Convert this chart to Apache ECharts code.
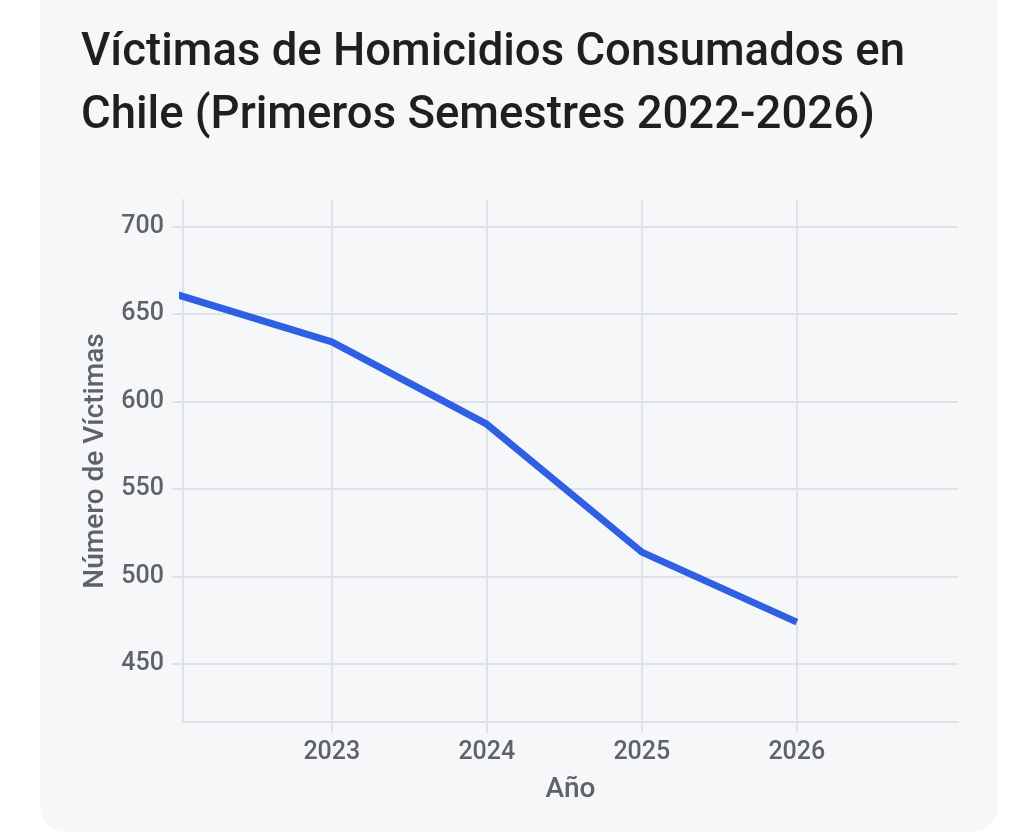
<!DOCTYPE html>
<html>
<head>
<meta charset="utf-8">
<script src="https://cdn.jsdelivr.net/npm/echarts@6/dist/echarts.min.js"></script>
<style>
  html, body { margin: 0; padding: 0; background: #ffffff; width: 1024px; height: 835px; overflow: hidden; }
  #card { position: absolute; left: 40px; top: -30px; width: 958px; height: 862px; background: #f5f7f9; border-radius: 26px; }
  #chart { position: absolute; left: 0; top: 0; width: 1024px; height: 835px; }
</style>
</head>
<body>
<div id="card"></div>
<div id="chart"></div>
<script>
const titleLines = ['Víctimas de Homicidios Consumados en', 'Chile (Primeros Semestres 2022-2026)'];
const years = [2022, 2023, 2024, 2025, 2026];
const victims = [661, 634, 587, 514, 474];
const xTicks = [2023, 2024, 2025, 2026];
const yTicks = [450, 500, 550, 600, 650, 700];
const xName = 'Año';
const yName = 'Número de Víctimas';

const gridColor = '#dfe2e6';
const labelColor = '#5f6368';

const chart = echarts.init(document.getElementById('chart'), null, { renderer: 'canvas' });
chart.setOption({
  backgroundColor: 'transparent',
  animation: false,
  title: {
    text: titleLines.join('\n'),
    left: 81,
    top: 22,
    padding: 0,
    textStyle: {
      fontFamily: 'Roboto',
      fontSize: 45.5,
      fontWeight: 500,
      lineHeight: 63,
      color: '#1f1f1f'
    }
  },
  grid: { left: 183, right: 66, top: 200, bottom: 113, containLabel: false },
  xAxis: {
    type: 'value',
    min: 2022.04,
    max: 2027.04,
    name: xName,
    nameLocation: 'middle',
    nameGap: 54,
    nameTextStyle: { fontFamily: 'Roboto', fontSize: 28, fontWeight: 500, color: labelColor },
    axisLine: { show: true, lineStyle: { color: gridColor, width: 2 } },
    axisTick: { show: true, length: 11, customValues: xTicks, lineStyle: { color: gridColor, width: 2 } },
    axisLabel: {
      customValues: xTicks,
      margin: 18,
      fontFamily: 'Roboto',
      fontSize: 25,
      fontWeight: 500,
      color: labelColor,
      formatter: v => String(v)
    },
    splitLine: { show: true, lineStyle: { color: gridColor, width: 2 } }
  },
  yAxis: {
    type: 'value',
    min: 417,
    max: 715,
    name: yName,
    nameLocation: 'middle',
    nameRotate: 90,
    nameGap: 69,
    nameTextStyle: { fontFamily: 'Roboto', fontSize: 28, fontWeight: 500, color: labelColor },
    axisLine: { show: true, lineStyle: { color: gridColor, width: 2 } },
    axisTick: { show: true, length: 11, customValues: yTicks, lineStyle: { color: gridColor, width: 2 } },
    axisLabel: {
      customValues: yTicks,
      margin: 19,
      fontFamily: 'Roboto',
      fontSize: 25,
      fontWeight: 500,
      color: labelColor
    },
    splitLine: { show: true, lineStyle: { color: gridColor, width: 2 } }
  },
  series: [{
    type: 'line',
    data: years.map((y, i) => [y, victims[i]]),
    showSymbol: false,
    symbol: 'none',
    clip: true,
    lineStyle: { color: '#2f5fe3', width: 7, cap: 'butt', join: 'round' },
    itemStyle: { color: '#2f5fe3' }
  }]
});
</script>
</body>
</html>
